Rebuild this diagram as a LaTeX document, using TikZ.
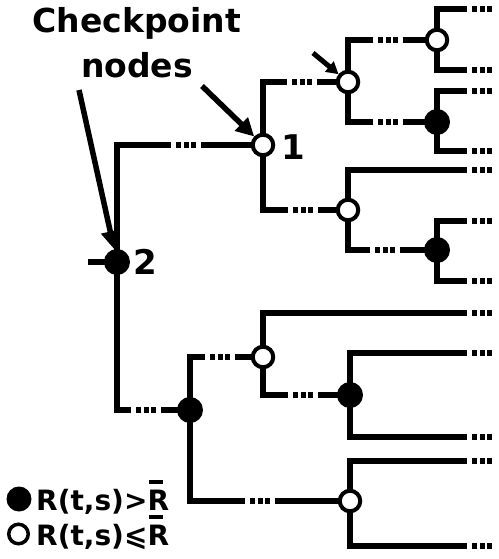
\documentclass[tikz,border=0pt]{standalone}
\usepackage{fontspec}
\setmainfont{DejaVu Sans}
\usetikzlibrary{arrows.meta}
\newcommand\rbarsym{\setbox0\hbox{R}\rlap{\hspace{0.08\wd0}\raisebox{\dimexpr\ht0+6pt\relax}{\rule{0.62\wd0}{4pt}}}R}
\tikzset{
 ln/.style={line width=6pt},
 vert/.style={ln, line cap=rect},
 open/.style={circle, draw, line width=4pt, fill=white, minimum size=20.5pt, inner sep=0pt},
 full/.style={circle, fill=black, minimum size=26pt, inner sep=0pt},
 gapln/.style={ln, dash pattern=on #1 off 5pt on 5pt off 2.5pt on 5pt off 2.5pt on 5pt off 5pt on 1000pt},
 leafln/.style={ln, dash pattern=on 5pt off 2.5pt on 5pt off 2.5pt on 5pt off 5pt on 1000pt},
 callout/.style={line width=5.5pt, -{Triangle[length=18pt,width=18pt]}},
 smallcall/.style={line width=5pt, -{Triangle[length=12pt,width=13pt]}},
 lbl/.style={font=\bfseries\fontsize{34}{34}\selectfont, inner sep=0pt},
 ttl/.style={font=\bfseries\fontsize{33}{33}\selectfont, inner sep=0pt, anchor=base},
 leg/.style={font=\bfseries\fontsize{28}{28}\selectfont, inner sep=0pt, anchor=base west},
}
\begin{document}
\begin{tikzpicture}[x=1pt,y=-1pt]
\useasboundingbox (0,0) rectangle (498,559);
% coordinates
\coordinate (st) at (88,262);
\coordinate (rt) at (117,145); \coordinate (rb) at (117,410);
\coordinate (n1t) at (263,82); \coordinate (n1b) at (263,210);
\coordinate (at) at (348,40); \coordinate (ab) at (348,122);
\coordinate (a1t) at (437,9); \coordinate (a1b) at (437,70);
\coordinate (a2t) at (437,91); \coordinate (a2b) at (437,151);
\coordinate (bt) at (348,170); \coordinate (bb) at (348,250);
\coordinate (b2t) at (437,221); \coordinate (b2b) at (437,281);
\coordinate (ct) at (190,357); \coordinate (cb) at (190,501);
\coordinate (c1t) at (263,313); \coordinate (c1b) at (263,395);
\coordinate (dt) at (350,353); \coordinate (db) at (350,437);
\coordinate (et) at (350,461); \coordinate (eb) at (350,546);
% leaves
\foreach \n/\y in {la/9,lb/70,lc/91,ld/151,le/170,lf/221,lg/281,lh/313,li/353,lj/437,lk/461,ll/546}
  \coordinate (\n) at (492,\y);
% vertical lines
\draw[vert] (rt) -- (rb);
\draw[vert] (n1t) -- (n1b);
\draw[vert] (at) -- (ab);
\draw[vert] (a1t) -- (a1b);
\draw[vert] (a2t) -- (a2b);
\draw[vert] (bt) -- (bb);
\draw[vert] (b2t) -- (b2b);
\draw[vert] (ct) -- (cb);
\draw[vert] (c1t) -- (c1b);
\draw[vert] (dt) -- (db);
\draw[vert] (et) -- (eb);
% nodes placement coordinates
\coordinate (pR) at (117,262);
\coordinate (pN1) at (263,145);
\coordinate (pA) at (348,82);
\coordinate (pA1) at (437,40);
\coordinate (pA2) at (437,122);
\coordinate (pB) at (348,210);
\coordinate (pB2) at (437,250);
\coordinate (pC) at (190,410);
\coordinate (pC1) at (263,357);
\coordinate (pD) at (350,395);
\coordinate (pE) at (350,501);
\draw[ln] (st) -- (pR);
% horizontal gapped edges
\draw[gapln=54pt] (rt) -- (pN1);
\draw[gapln=14pt] (rb) -- (pC);
\draw[gapln=24pt] (n1t) -- (pA);
\draw[gapln=25pt] (n1b) -- (pB);
\draw[gapln=25pt] (at) -- (pA1);
\draw[gapln=25pt] (ab) -- (pA2);
\draw[gapln=22pt] (bb) -- (pB2);
\draw[gapln=15pt] (ct) -- (pC1);
\draw[gapln=55pt] (cb) -- (pE);
\draw[gapln=25pt] (c1b) -- (pD);
% leaf edges
\draw[leafln] (la) -- (a1t);
\draw[leafln] (lb) -- (a1b);
\draw[leafln] (lc) -- (a2t);
\draw[leafln] (ld) -- (a2b);
\draw[leafln] (le) -- (bt);
\draw[leafln] (lf) -- (b2t);
\draw[leafln] (lg) -- (b2b);
\draw[leafln] (lh) -- (c1t);
\draw[leafln] (li) -- (dt);
\draw[leafln] (lj) -- (db);
\draw[leafln] (lk) -- (et);
\draw[leafln] (ll) -- (eb);
% checkpoint nodes
\node[full] (R) at (pR) {};
\node[open] (N1) at (pN1) {};
\node[open] (A) at (pA) {};
\node[open] (A1) at (pA1) {};
\node[full] (A2) at (pA2) {};
\node[open] (B) at (pB) {};
\node[full] (B2) at (pB2) {};
\node[full] (C) at (pC) {};
\node[open] (C1) at (pC1) {};
\node[full] (D) at (pD) {};
\node[open] (E) at (pE) {};
% labels
\node[lbl, anchor=west] (l2) at (133,262) {2};
\node[lbl, anchor=west] (l1) at (281,147) {1};
\node[ttl] (t1) at (137,33) {Checkpoint};
\node[ttl] (t2) at (137,78) {nodes};
% callouts
\coordinate (c1) at (79,90);
\coordinate (c2) at (202,86);
\coordinate (c3) at (313,53);
\draw[callout] (c1) -- (R);
\draw[callout] (c2) -- (N1);
\draw[smallcall] (c3) -- (A);
% legend
\node[full, minimum size=25pt] (kf) at (19,499) {};
\node[open, minimum size=19.5pt, line width=3.5pt] (ko) at (18.5,534) {};
\node[leg] (k1) at (36,510) {R(t,s)>\rbarsym};
\node[leg] (k2) at (36,545) {R(t,s)⩽\rbarsym};
\end{tikzpicture}
\end{document}
